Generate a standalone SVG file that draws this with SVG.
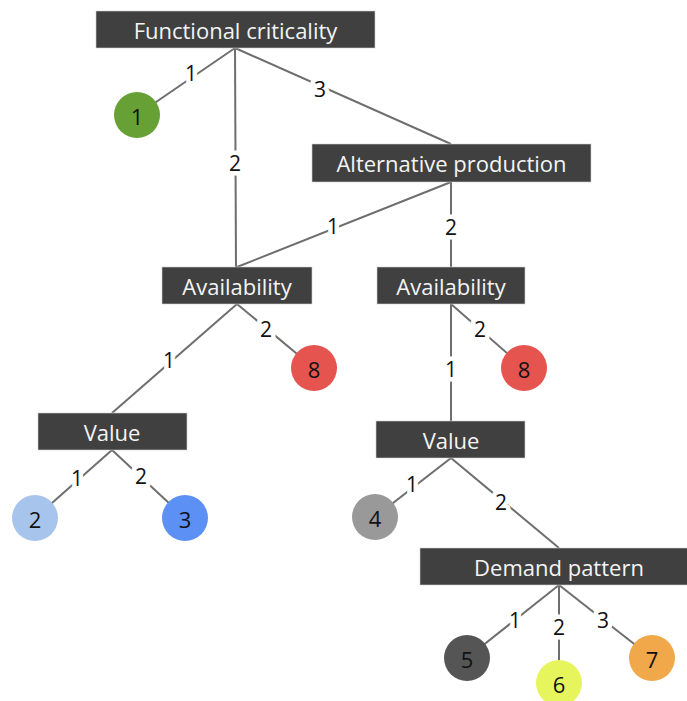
<svg xmlns="http://www.w3.org/2000/svg" width="687" height="701" viewBox="0 0 687 701">
  <style>
    .box rect { fill: #404040; stroke: #cfcfcf; stroke-width: 0.6; }
    .box text { fill: #f4f4f4; font-family: "Open Sans", "Noto Sans", sans-serif; font-size: 22px; text-anchor: middle; dominant-baseline: central; }
    .leaf text { fill: #111; font-family: "Open Sans", "Noto Sans", sans-serif; font-size: 22px; text-anchor: middle; dominant-baseline: central; }
    #connectors line { stroke: #6e6e6e; stroke-width: 2; }
    #connectors text { fill: #111; font-family: "Open Sans", "Noto Sans", sans-serif; font-size: 21px; text-anchor: middle; dominant-baseline: central; stroke: #fff; stroke-width: 9; paint-order: stroke; stroke-linejoin: round; }
  </style>
  <rect width="687" height="701" fill="#fff"/>

  <g id="connectors">
    <line x1="235" y1="48" x2="137" y2="115"/>
    <line x1="235" y1="48" x2="236" y2="267"/>
    <line x1="235" y1="48" x2="451" y2="144"/>
    <line x1="451" y1="182" x2="237" y2="267"/>
    <line x1="451" y1="182" x2="451" y2="267"/>
    <line x1="237" y1="304" x2="112" y2="413"/>
    <line x1="237" y1="304" x2="314" y2="368"/>
    <line x1="112" y1="450" x2="35" y2="518"/>
    <line x1="112" y1="450" x2="185" y2="518"/>
    <line x1="451" y1="304" x2="451" y2="421"/>
    <line x1="451" y1="304" x2="524" y2="368"/>
    <line x1="451" y1="458" x2="375" y2="517"/>
    <line x1="451" y1="458" x2="559" y2="548"/>
    <line x1="559" y1="585" x2="467" y2="658"/>
    <line x1="559" y1="585" x2="559" y2="683"/>
    <line x1="559" y1="585" x2="652" y2="658"/>

    <text x="191" y="73">1</text>
    <text x="235" y="163">2</text>
    <text x="320" y="89">3</text>
    <text x="333" y="226">1</text>
    <text x="451" y="227">2</text>
    <text x="169" y="360">1</text>
    <text x="266" y="329">2</text>
    <text x="77" y="478">1</text>
    <text x="141" y="476">2</text>
    <text x="451" y="369">1</text>
    <text x="480" y="329">2</text>
    <text x="412" y="484">1</text>
    <text x="501" y="502">2</text>
    <text x="515" y="620">1</text>
    <text x="559" y="627">2</text>
    <text x="603" y="620">3</text>
  </g>

  <g id="functional-criticality" class="box">
    <rect x="96" y="11" width="279" height="37"/>
    <text x="235.5" y="29.5">Functional criticality</text>
  </g>
  <g id="alternative-production" class="box">
    <rect x="312" y="144" width="279" height="38"/>
    <text x="451.5" y="162.5">Alternative production</text>
  </g>
  <g id="availability-1" class="box">
    <rect x="162" y="267" width="150" height="37"/>
    <text x="237" y="285.5">Availability</text>
  </g>
  <g id="availability-2" class="box">
    <rect x="377" y="267" width="148" height="37"/>
    <text x="451" y="285.5">Availability</text>
  </g>
  <g id="value-1" class="box">
    <rect x="38" y="413" width="149" height="37"/>
    <text x="112" y="431.5">Value</text>
  </g>
  <g id="value-2" class="box">
    <rect x="376" y="421" width="149" height="37"/>
    <text x="451" y="439.5">Value</text>
  </g>
  <g id="demand-pattern" class="box">
    <rect x="420" y="548" width="279" height="37"/>
    <text x="559" y="566.5">Demand pattern</text>
  </g>

  <g id="leaf-1" class="leaf"><circle cx="137" cy="115" r="23" fill="#67a135"/><text x="137" y="116">1</text></g>
  <g id="leaf-8a" class="leaf"><circle cx="314" cy="368" r="23" fill="#e5544f"/><text x="314" y="369">8</text></g>
  <g id="leaf-2" class="leaf"><circle cx="35" cy="518" r="23" fill="#a6c4ec"/><text x="35" y="519">2</text></g>
  <g id="leaf-3" class="leaf"><circle cx="185" cy="518" r="23" fill="#5d90f5"/><text x="185" y="519">3</text></g>
  <g id="leaf-8b" class="leaf"><circle cx="524" cy="368" r="23" fill="#e5544f"/><text x="524" y="369">8</text></g>
  <g id="leaf-4" class="leaf"><circle cx="375" cy="517" r="23" fill="#999999"/><text x="375" y="518">4</text></g>
  <g id="leaf-5" class="leaf"><circle cx="467" cy="658" r="23" fill="#555555"/><text x="467" y="659">5</text></g>
  <g id="leaf-6" class="leaf"><circle cx="559" cy="683" r="23" fill="#e6f55c"/><text x="559" y="684">6</text></g>
  <g id="leaf-7" class="leaf"><circle cx="652" cy="658" r="23" fill="#f0a84a"/><text x="652" y="659">7</text></g>
</svg>
